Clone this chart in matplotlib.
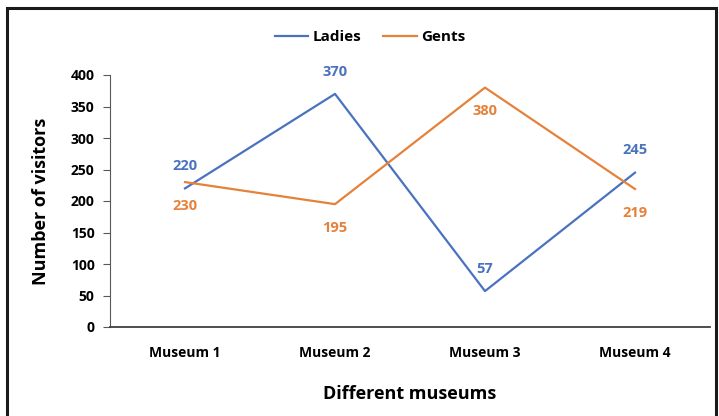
import matplotlib
matplotlib.use("Agg")
import matplotlib.pyplot as plt
from matplotlib.patches import Rectangle

categories = ["Museum 1", "Museum 2", "Museum 3", "Museum 4"]
ladies = [220, 370, 57, 245]
gents = [230, 195, 380, 219]
yticks = [0, 50, 100, 150, 200, 250, 300, 350, 400]

plt.rcParams['font.family'] = ['Open Sans', 'DejaVu Sans']
blue = '#4A72BE'
orange = '#E5823A'

fig = plt.figure(figsize=(7.19, 4.16), dpi=100)
ax = fig.add_axes([110/719, 1-327/416, 600/719, 252/416])

x = list(range(len(categories)))
ax.plot(x, ladies, color=blue, lw=1.6, label='Ladies')
ax.plot(x, gents, color=orange, lw=1.6, label='Gents')

for xi, v in zip(x, ladies):
    ax.annotate(str(v), (xi, v), xytext=(0, 11), textcoords='offset points',
                ha='center', va='bottom', color=blue, fontsize=10.5, fontweight='bold')
for xi, v in zip(x, gents):
    ax.annotate(str(v), (xi, v), xytext=(0, -12), textcoords='offset points',
                ha='center', va='top', color=orange, fontsize=10.5, fontweight='bold')

ax.set_xlim(-0.5, 3.5)
ax.set_ylim(0, 400)
ax.set_yticks(yticks)
ax.set_yticklabels([str(t) for t in yticks], fontsize=10, fontweight='bold')
ax.set_xticks(x)
ax.set_xticklabels(categories, fontsize=10, fontweight='bold')
ax.tick_params(axis='x', length=0, pad=14)
ax.tick_params(axis='y', length=5, color='#595959', pad=6)
for s in ['top', 'right']:
    ax.spines[s].set_visible(False)
ax.spines['left'].set_color('#595959')
ax.spines['bottom'].set_color('#404040')
ax.spines['bottom'].set_linewidth(1.3)

ax.set_ylabel('Number of visitors', fontsize=13, fontweight='bold', labelpad=15)
ax.set_xlabel('Different museums', fontsize=13, fontweight='bold', labelpad=18)

fig.legend(loc='center', bbox_to_anchor=(370/719, 1-37/416), ncol=2, frameon=False,
           prop={'weight': 'bold', 'size': 11}, handlelength=2.2,
           handletextpad=0.3, columnspacing=1.4)

fig.patches.append(Rectangle((7/719, -0.1), 709/719, 1.1-8/416, transform=fig.transFigure,
                             fill=False, edgecolor='#1a1a1a', lw=2.2))

fig.savefig('out.png', dpi=100)
